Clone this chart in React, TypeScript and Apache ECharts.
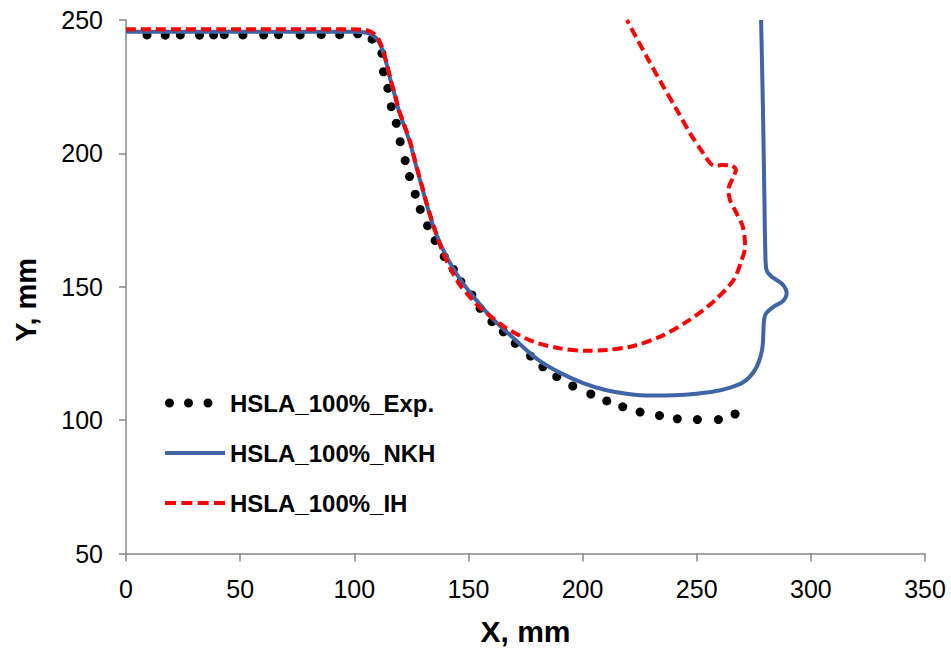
import React, { useEffect, useRef } from "react";
import * as echarts from "echarts";

const xTicks = { min: 0, max: 350, interval: 50 };
const yTicks = { min: 50, max: 250, interval: 50 };

const seriesNames = ["HSLA_100%_Exp.", "HSLA_100%_NKH", "HSLA_100%_IH"];

const expX = [9.2, 17.2, 23.8, 32.2, 38.4, 43.0, 51.2, 60.3, 66.8, 76.3, 85.5, 93.6, 101.5,
  107.8, 112.1, 112.8, 114.7, 116.2, 118.4, 120.1, 122.3, 124.2, 126.7, 128.9, 132.1, 135.4,
  139.4, 143.4, 146.7, 151.5, 155.1, 160.3, 165.3, 170.5, 177.2, 182.6, 188.7, 195.7, 203.6,
  210.6, 217.6, 225.2, 233.7, 241.5, 250.3, 259.5, 266.8];
const expY = [244.4, 244.3, 244.4, 244.3, 244.4, 244.5, 244.4, 244.4, 244.5, 244.4, 244.5, 244.5, 244.8,
  242.8, 237.5, 230.6, 224.4, 217.5, 211.3, 204.4, 197.3, 191.3, 184.7, 179.0, 172.9, 167.3,
  161.3, 156.5, 151.9, 146.9, 141.9, 136.9, 133.1, 128.8, 124.0, 120.0, 116.3, 112.8, 109.8,
  107.2, 105.0, 103.0, 101.7, 100.5, 100.2, 100.2, 102.3];

const nkhX = [0, 50, 100, 104, 107, 109.5, 111.5, 113, 114.3, 116, 118, 119.4, 122, 124.5, 127,
  129.6, 132, 134.7, 138, 142, 147, 152.2, 160, 170, 180, 190, 200, 210, 220, 230, 240, 250,
  258, 265, 270, 273.5, 276.3, 278, 278.9, 279.2, 279.5, 280.4, 283.6, 287.5, 289.4, 287.5,
  282.5, 280.5, 280, 279.7, 279.2, 278.7, 278.2];
const nkhY = [245.6, 245.6, 245.6, 245.4, 244.8, 243.3, 240.5, 237, 233, 227, 221, 216.3, 210,
  203.8, 195.5, 187.5, 180, 172.5, 165.5, 158.8, 152, 146.3, 138.5, 130.5, 123, 117.8, 114,
  111.3, 109.8, 109.2, 109.3, 109.9, 110.8, 112.3, 114, 116.5, 120, 124, 128, 133, 137.5, 140,
  142.5, 144.4, 147.5, 151, 154, 156.5, 165, 180, 207.5, 230, 250];

const ihX = [0, 50, 100, 104, 107, 109.5, 111.5, 113, 114.3, 116, 118, 119.4, 122, 124.5, 127,
  129.6, 132, 134.7, 138.5, 142, 146, 149.3, 153.5, 158.1, 166.8, 178.5, 190.2, 201.9, 210.6,
  222.3, 234, 245.7, 257.3, 266.1, 269.7, 271.2, 270.2, 267.5, 264.6, 263.9, 266.1, 267.2, 265,
  261, 258, 255.9, 252.9, 247.1, 241.3, 235.4, 228.1, 219.4];
const ihY = [246.5, 246.5, 246.5, 246.3, 245.7, 244.2, 241.3, 237.5, 233.5, 227.5, 221.5, 216.8,
  210.5, 204.3, 196, 188, 180.5, 173, 163.5, 157, 151, 147.5, 143.5, 140, 134.4, 129.4, 126.9,
  126.0, 126.3, 127.8, 131.3, 136.9, 144.4, 152.5, 160, 165, 172.5, 177.5, 182.5, 186.3, 191.3,
  193.8, 195.5, 195.6, 195.3, 196.3, 200, 207.5, 216.3, 225, 236.2, 250];

const pair = (xs: number[], ys: number[]) => xs.map((x, i) => [x, ys[i]]);

const FONT = "'Liberation Sans', Arial, sans-serif";
const BLUE = "#3F65A6";
const RED = "#FF0000";

export default function App() {
  const ref = useRef<HTMLDivElement>(null);
  useEffect(() => {
    if (!ref.current) return;
    const chart = echarts.init(ref.current, undefined, { renderer: "svg" });
    const dotsIcon =
      "path://M0,4.5L60,4.5Z M0,4.5a4.5,4.5 0 1,0 9,0a4.5,4.5 0 1,0 -9,0Z M19,4.5a4.5,4.5 0 1,0 9,0a4.5,4.5 0 1,0 -9,0Z M38.5,4.5a4.5,4.5 0 1,0 9,0a4.5,4.5 0 1,0 -9,0Z";
    const solidIcon = "path://M0,0H60V4H0Z";
    const dashIcon =
      "path://M0,0h11v4h-11Z M16.33,0h11v4h-11Z M32.67,0h11v4h-11Z M49,0h11v4h-11Z";
    chart.setOption({
      animation: false,
      backgroundColor: "#ffffff",
      grid: { left: 126, right: 26, top: 20, bottom: 102.5, containLabel: false },
      legend: {
        orient: "vertical",
        left: 165,
        top: 391,
        padding: 0,
        itemWidth: 60,
        itemHeight: 14,
        itemGap: 26,
        selectedMode: false,
        textStyle: { fontFamily: FONT, fontWeight: "bold", fontSize: 24, color: "#000", lineHeight: 24 },
        data: [
          { name: seriesNames[0], icon: dotsIcon, itemStyle: { color: "#000", opacity: 1 } },
          { name: seriesNames[1], icon: solidIcon, itemStyle: { color: BLUE, borderWidth: 0 } },
          { name: seriesNames[2], icon: dashIcon, itemStyle: { color: RED, borderWidth: 0 } },
        ],
      },
      xAxis: {
        type: "value",
        min: xTicks.min,
        max: xTicks.max,
        interval: xTicks.interval,
        name: "X, mm",
        nameLocation: "middle",
        nameGap: 63,
        nameTextStyle: { fontFamily: FONT, fontWeight: "bold", fontSize: 30, color: "#000" },
        axisLine: { show: true, onZero: false, lineStyle: { color: "#878787", width: 1.5 } },
        axisTick: { show: true, inside: false, length: 8, lineStyle: { color: "#878787", width: 1.5 } },
        axisLabel: { fontFamily: FONT, fontSize: 25, color: "#000", margin: 23 },
        splitLine: { show: false },
      },
      yAxis: {
        type: "value",
        min: yTicks.min,
        max: yTicks.max,
        interval: yTicks.interval,
        name: "Y, mm",
        nameLocation: "middle",
        nameGap: 86,
        nameTextStyle: { fontFamily: FONT, fontWeight: "bold", fontSize: 29, color: "#000", padding: [0, 26, 0, 0] },
        axisLine: { show: true, onZero: false, lineStyle: { color: "#878787", width: 1.5 } },
        axisTick: { show: true, inside: false, length: 7, lineStyle: { color: "#878787", width: 1.5 } },
        axisLabel: { fontFamily: FONT, fontSize: 25, color: "#000", margin: 23 },
        splitLine: { show: false },
      },
      series: [
        {
          name: seriesNames[0],
          type: "scatter",
          data: pair(expX, expY),
          symbol: "circle",
          symbolSize: 9,
          itemStyle: { color: "#000000", opacity: 1 },
          emphasis: { disabled: true },
          z: 3,
        },
        {
          name: seriesNames[1],
          type: "line",
          data: pair(nkhX, nkhY),
          showSymbol: false,
          symbol: "none",
          smooth: 0.3,
          lineStyle: { color: BLUE, width: 4 },
          itemStyle: { color: BLUE },
          emphasis: { disabled: true },
          z: 4,
        },
        {
          name: seriesNames[2],
          type: "line",
          data: pair(ihX, ihY),
          showSymbol: false,
          symbol: "none",
          smooth: 0.3,
          lineStyle: { color: RED, width: 4, type: [10, 5] },
          itemStyle: { color: RED },
          emphasis: { disabled: true },
          z: 5,
        },
      ],
    });
    return () => chart.dispose();
  }, []);
  return (
    <div
      ref={ref}
      style={{ position: "fixed", left: 0, top: 0, width: 951, height: 656, background: "#fff" }}
    />
  );
}
